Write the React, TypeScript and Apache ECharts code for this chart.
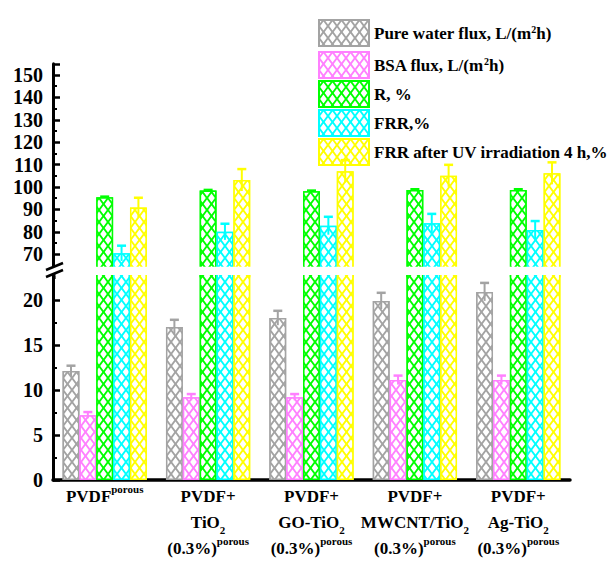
import React, { useEffect, useRef } from "react";
import * as echarts from "echarts";

const FONT = '"Liberation Serif", "Times New Roman", serif';

const categories = ["PVDF porous", "PVDF+ TiO2", "PVDF+ GO-TiO2", "PVDF+ MWCNT/TiO2", "PVDF+ Ag-TiO2"];
const labelLines = [
  "{b|PVDF}{sup|porous}",
  "{b|PVDF+}\n{b|TiO}{sub|2}\n{b|(0.3%)}{sup|porous}",
  "{b|PVDF+}\n{b|GO-TiO}{sub|2}\n{b|(0.3%)}{sup|porous}",
  "{b|PVDF+}\n{b|MWCNT/TiO}{sub|2}\n{b|(0.3%)}{sup|porous}",
  "{b|PVDF+}\n{b|Ag-TiO}{sub|2}\n{b|(0.3%)}{sup|porous}",
];

const seriesNames = [
  "Pure water flux, L/(m2h)",
  "BSA flux, L/(m2h)",
  "R, %",
  "FRR,%",
  "FRR after UV irradiation 4 h,%",
];
const colors = ["#a3a3a3", "#ff80ff", "#00ff00", "#00ffff", "#ffff00"];

const pureWater = [12.1, 17.0, 18.0, 19.9, 20.9];
const pureWaterErr = [0.6, 0.8, 0.8, 0.9, 1.0];
const bsaFlux = [7.2, 9.2, 9.2, 11.1, 11.1];
const bsaFluxErr = [0.35, 0.35, 0.35, 0.5, 0.5];
const rejection = [95.4, 98.4, 98.1, 98.7, 98.7];
const rejectionErr = [0.3, 0.3, 0.3, 0.3, 0.3];
const frr = [70.4, 80.0, 82.7, 83.8, 80.8];
const frrErr = [3.4, 3.6, 4.0, 4.2, 4.0];
const frrUv = [90.9, 103.1, 107.0, 105.0, 106.1];
const frrUvErr = [4.3, 4.9, 5.0, 4.9, 4.9];

const values = [pureWater, bsaFlux, rejection, frr, frrUv];
const errors = [pureWaterErr, bsaFluxErr, rejectionErr, frrErr, frrUvErr];

const upperTicks = { min: 60, max: 155, interval: 10 };
const lowerTicks = { min: 0, max: 23, interval: 5 };

const CAT_GAP = 0.185;

const decal = {
  symbol:
    "path://M4.5,1.6L7.8,6L4.5,10.4L1.2,6Z M0,0L3.3,0L0,4.4Z M9,0L9,4.4L5.7,0Z M0,12L0,7.6L3.3,12Z M9,12L5.7,12L9,7.6Z",
  symbolSize: 1,
  symbolKeepAspect: false,
  color: "#ffffff",
  backgroundColor: null,
  dashArrayX: [9, 0],
  dashArrayY: [12, 0],
  rotation: 0,
};

function legendFormatter(name: string) {
  return name.replace("m2h", "m{sup|2}h");
}

export default function App() {
  const ref = useRef<HTMLDivElement>(null);
  useEffect(() => {
    if (!ref.current) return;
    const chart = echarts.init(ref.current, null, { renderer: "svg" });

    const bars: any[] = [];
    const errs: any[] = [];
    [0, 1].forEach((g) => {
      values.forEach((vals, i) => {
        bars.push({
          type: "bar",
          name: seriesNames[i],
          xAxisIndex: g,
          yAxisIndex: g,
          data: vals,
          barGap: "0%",
          barCategoryGap: CAT_GAP * 100 + "%",
          itemStyle: {
            color: colors[i],
            borderColor: colors[i],
            borderWidth: 1.5,
            decal: decal,
          },
          emphasis: { disabled: true },
        });
      });
    });
    values.forEach((vals, i) => {
      const g = i < 2 ? 1 : 0;
      errs.push({
        type: "custom",
        name: "_err" + i,
        xAxisIndex: g,
        yAxisIndex: g,
        z: 5,
        data: vals.map((v, j) => [j, v, errors[i][j]]),
        encode: { x: 0, y: 1 },
        renderItem: (params: any, api: any) => {
          const idx = api.value(0);
          const v = api.value(1);
          const e = api.value(2);
          const band = api.size([1, 0])[0];
          const bw = (band * (1 - CAT_GAP)) / 5;
          const c = api.coord([idx, v]);
          const cx = c[0] + (i - 2) * bw;
          const top = api.coord([idx, v + e])[1];
          const bot = api.coord([idx, v - e])[1];
          return {
            type: "group",
            children: [
              {
                type: "line",
                shape: { x1: cx, y1: bot, x2: cx, y2: top },
                style: { stroke: colors[i], lineWidth: 2 },
              },
              {
                type: "line",
                shape: { x1: cx - 4.5, y1: top, x2: cx + 4.5, y2: top },
                style: { stroke: colors[i], lineWidth: 2.5 },
              },
            ],
          };
        },
      });
    });

    const yCommon = {
      type: "value",
      splitLine: { show: false },
      axisLine: { show: true, lineStyle: { color: "#000", width: 3 } },
      axisTick: { show: true, inside: true, length: 7, lineStyle: { color: "#000", width: 2.5 } },
      minorTick: { show: true, splitNumber: 2, length: 4, lineStyle: { color: "#000", width: 2 } },
    };
    const yLabel = {
      fontSize: 20,
      fontWeight: "bold",
      fontFamily: FONT,
      color: "#000",
      margin: 10,
    };

    const legendText = {
      fontSize: 17,
      fontWeight: "bold",
      fontFamily: FONT,
      color: "#000",
      rich: {
        sup: {
          fontSize: 10,
          fontWeight: "bold",
          fontFamily: FONT,
          color: "#000",
          lineHeight: 10,
          verticalAlign: "top",
        },
      },
    };
    const legendCommon = {
      orient: "vertical",
      left: 313,
      itemWidth: 50,
      itemHeight: 26,
      itemGap: 1,
      icon: "rect",
      selectedMode: false,
      formatter: legendFormatter,
      textStyle: legendText,
    };

    chart.setOption({
      animation: false,
      backgroundColor: "#fff",
      legend: [
        { ...legendCommon, top: 14, data: [seriesNames[0]] },
        { ...legendCommon, top: 46, data: seriesNames.slice(1) },
      ],
      grid: [
        { left: 53, right: 39, top: 63.8, height: 212.8 },
        { left: 53, right: 39, top: 273, height: 207 },
      ],
      xAxis: [
        { gridIndex: 0, type: "category", data: categories, show: false },
        {
          gridIndex: 1,
          type: "category",
          data: categories,
          axisLine: { lineStyle: { color: "#000", width: 3.5 } },
          axisTick: { show: false },
          axisLabel: {
            interval: 0,
            margin: 3,
            formatter: (_v: string, idx: number) => labelLines[idx],
            rich: {
              b: { fontSize: 17, fontWeight: "bold", fontFamily: FONT, color: "#000", lineHeight: 26 },
              sup: {
                fontSize: 11,
                fontWeight: "bold",
                fontFamily: FONT,
                color: "#000",
                lineHeight: 12,
                verticalAlign: "top",
              },
              sub: {
                fontSize: 11,
                fontWeight: "bold",
                fontFamily: FONT,
                color: "#000",
                lineHeight: 12,
                verticalAlign: "bottom",
              },
            },
          },
        },
      ],
      yAxis: [
        {
          ...yCommon,
          gridIndex: 0,
          min: upperTicks.min,
          max: upperTicks.max,
          interval: upperTicks.interval,
          axisLabel: { ...yLabel, showMinLabel: false, showMaxLabel: false },
        },
        {
          ...yCommon,
          gridIndex: 1,
          min: lowerTicks.min,
          max: lowerTicks.max,
          interval: lowerTicks.interval,
          axisLabel: { ...yLabel, showMaxLabel: false },
        },
      ],
      graphic: [
        { type: "rect", z: 100, shape: { x: 56, y: 266.8, width: 530, height: 8.2 }, style: { fill: "#fff" } },
        { type: "rect", z: 100, shape: { x: 55.6, y: 266, width: 6, height: 13 }, style: { fill: "#fff" } },
        { type: "rect", z: 100, shape: { x: 50, y: 266, width: 7, height: 7.5 }, style: { fill: "#fff" } },
        { type: "line", z: 101, shape: { x1: 46, y1: 270, x2: 63, y2: 263 }, style: { stroke: "#000", lineWidth: 2.5 } },
        { type: "line", z: 101, shape: { x1: 46, y1: 277, x2: 63, y2: 270 }, style: { stroke: "#000", lineWidth: 2.5 } },
      ],
      series: [...bars, ...errs],
    });
    return () => chart.dispose();
  }, []);
  return <div ref={ref} style={{ position: "absolute", left: 0, top: 0, width: 609, height: 563 }} />;
}
